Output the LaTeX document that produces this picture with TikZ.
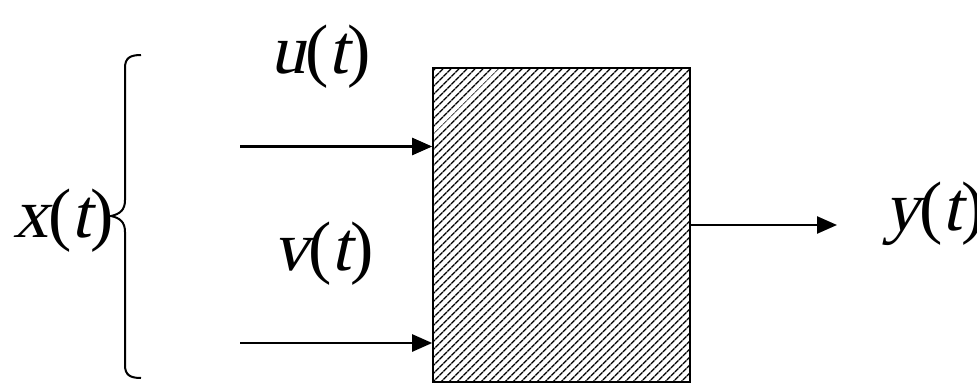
\documentclass[tikz,border=0pt]{standalone}
\usepackage{fontspec}
\setmainfont{Liberation Serif}
\newfontfamily\tnr{Liberation Serif}
\newfontfamily\tnrsl[FakeSlant=0.22]{Liberation Serif}
\newcommand\sigtxt[2]{\tnrsl #1\tnr(\tnrsl #2\tnr)}
\usetikzlibrary{arrows.meta,patterns.meta}
\tikzset{
  lbl/.style={anchor=base west,inner sep=0pt,font=\fontsize{70}{74}\selectfont},
  sig/.style={line width=2.5pt,-{Triangle[length=20pt,width=17pt]}},
  hatchbox/.style={draw,line width=2pt,minimum width=257pt,minimum height=314pt,inner sep=0pt,
    pattern={Lines[angle=45,distance=5.4pt,line width=1.6pt]}},
  bracestyle/.style={line width=2pt}
}
\begin{document}
\begin{tikzpicture}[x=1pt,y=-1pt]
\useasboundingbox (0,0) rectangle (977,383);
\node[hatchbox] (box) at (561.5,225) {};
\coordinate (uin) at (240,146.5);
\coordinate (vin) at (240,343);
\coordinate (yout) at (837,225);
\draw[sig] (uin) -- (box.west |- uin);
\draw[sig] (vin) -- (box.west |- vin);
\draw[sig] (box.east |- yout) -- (yout);
\node[lbl] (ulbl) at (270,73) {\sigtxt{u}{t}};
\node[lbl] (vlbl) at (273,270) {\sigtxt{v}{t}};
\node[lbl] (xlbl) at (13,237) {\sigtxt{x}{t}};
\node[lbl] (ylbl) at (884,230) {\sigtxt{y}{t}};
\draw[bracestyle] (141,55) .. controls (130,55) and (125,58) .. (125,68) -- (125,200)
  .. controls (125,210) and (120,214) .. (111,216)
  .. controls (120,218) and (125,222) .. (125,232) -- (125,365)
  .. controls (125,375) and (130,378) .. (141,378);
\end{tikzpicture}
\end{document}
